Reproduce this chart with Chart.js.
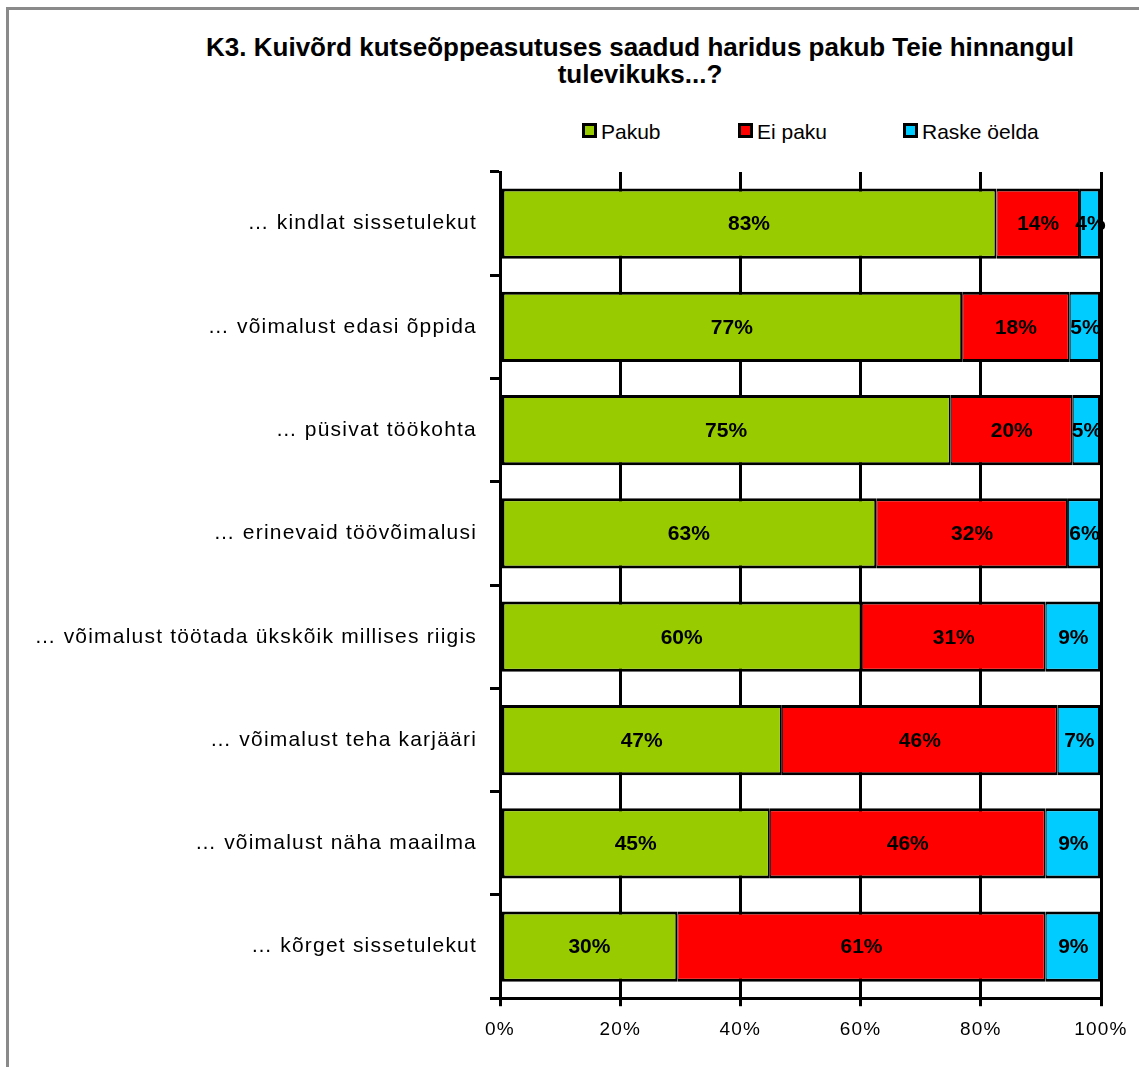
<!DOCTYPE html>
<html lang="et">
<head>
<meta charset="utf-8">
<title>K3</title>
<script src="https://cdn.jsdelivr.net/npm/chart.js@4.4.1/dist/chart.umd.min.js"></script>
<style>
  html, body { margin: 0; padding: 0; background: #fff; overflow: hidden; }
  body { width: 1139px; height: 1067px; position: relative; font-family: "Liberation Sans", Arial, sans-serif; }
  #frame { position: absolute; left: 6px; top: 7px; width: 1200px; height: 1200px; border: 3px solid #8a8a8a; }
  #title { position: absolute; left: 140px; width: 1000px; top: 34px; text-align: center;
           font-weight: bold; font-size: 26px; line-height: 27px; color: #000; }
  .lg { position: absolute; top: 120px; font-size: 21px; color: #000; line-height: 24px; white-space: nowrap; }
  .lg i { display: inline-block; width: 9px; height: 9px; border: 3px solid #000; margin-right: 4px; vertical-align: 1px; }
  #wrap { position: absolute; left: 0; top: 0; width: 1139px; height: 1067px; }
</style>
</head>
<body>
<div id="frame"></div>
<div id="title">K3. Kuivõrd kutseõppeasutuses saadud haridus pakub Teie hinnangul<br>tulevikuks...?</div>
<div id="legend"></div>
<div id="wrap"><canvas id="chart"></canvas></div>
<script>
// ---------- Data ----------
const categories = [
  "… kindlat sissetulekut",
  "… võimalust edasi õppida",
  "… püsivat töökohta",
  "… erinevaid töövõimalusi",
  "… võimalust töötada ükskõik millises riigis",
  "… võimalust teha karjääri",
  "… võimalust näha maailma",
  "… kõrget sissetulekut"
];

const seriesNames = ["Pakub", "Ei paku", "Raske öelda"];
const seriesColors = ["#99CC00", "#FF0000", "#00CCFF"];

const pakub      = [82.6, 76.9, 75.0, 62.6, 60.2, 46.9, 44.9, 29.5];
const eiPaku     = [13.9, 17.9, 20.3, 31.9, 30.6, 45.9, 45.9, 61.3];
const raskeOelda = [3.5, 5.2, 4.7, 5.5, 9.2, 7.2, 9.2, 9.2];

const xTicks = [0, 20, 40, 60, 80, 100];

// ---------- Legend (html, from the series lists) ----------
const legendX = [582, 738, 903];
const legendEl = document.getElementById("legend");
seriesNames.forEach((name, i) => {
  const d = document.createElement("div");
  d.className = "lg";
  d.style.left = legendX[i] + "px";
  d.innerHTML = '<i style="background:' + seriesColors[i] + '"></i>' + name;
  legendEl.appendChild(d);
});

// ---------- Plugins ----------
// the source renders its axis text a little spread out
const textSpacing = {
  id: "textSpacing",
  beforeDraw(chart) { chart.ctx.letterSpacing = "1.2px"; },
  beforeDatasetsDraw(chart) { chart.ctx.letterSpacing = "0px"; }
};

const barLabels = {
  id: "barLabels",
  afterDatasetsDraw(chart) {
    const ctx = chart.ctx;
    ctx.save();
    ctx.font = "bold 21px 'Liberation Sans', Arial, sans-serif";
    ctx.fillStyle = "#000";
    ctx.textAlign = "center";
    ctx.textBaseline = "middle";
    chart.data.datasets.forEach((ds, i) => {
      chart.getDatasetMeta(i).data.forEach((bar, j) => {
        const p = bar.getProps(["x", "y", "base"], true);
        ctx.fillText(Math.round(ds.data[j]) + "%", (p.x + p.base) / 2, p.y + 1);
      });
    });
    ctx.restore();
  }
};

// ---------- Chart ----------
const borders = [
  { top: 3, bottom: 3, left: 3, right: 2 },
  { top: 3, bottom: 3, left: 1, right: 2 },
  { top: 3, bottom: 3, left: 1, right: 3 }
];

new Chart(document.getElementById("chart"), {
  type: "bar",
  data: {
    labels: categories,
    datasets: [pakub, eiPaku, raskeOelda].map((vals, i) => ({
      label: seriesNames[i],
      data: vals,
      backgroundColor: seriesColors[i],
      borderColor: "#000",
      borderWidth: borders[i],
      borderSkipped: false,
      barPercentage: 0.68,
      categoryPercentage: 1
    }))
  },
  options: {
    indexAxis: "y",
    responsive: true,
    maintainAspectRatio: false,
    animation: false,
    layout: { padding: { top: 172, left: 0, right: 38, bottom: 14 } },
    plugins: {
      legend: { display: false },
      title: { display: false },
      tooltip: { enabled: false }
    },
    scales: {
      x: {
        stacked: true,
        min: 0,
        max: 100,
        afterBuildTicks: (s) => { s.ticks = xTicks.map(v => ({ value: v })); },
        ticks: {
          color: "#000",
          padding: 12,
          font: { family: "'Liberation Sans', Arial, sans-serif", size: 19 },
          callback: (v) => v + "%"
        },
        grid: { color: "#000", lineWidth: 3, tickLength: 8, tickColor: "#000" },
        border: { color: "#000", width: 3 }
      },
      y: {
        stacked: true,
        afterFit: (s) => { s.width = 500; },
        ticks: {
          color: "#000",
          padding: 13,
          font: { family: "'Liberation Sans', Arial, sans-serif", size: 21 }
        },
        grid: { color: "transparent", drawOnChartArea: false, tickColor: "#000", tickLength: 10, lineWidth: 3, offset: true },
        border: { color: "#000", width: 3 }
      }
    }
  },
  plugins: [textSpacing, barLabels]
});
</script>
</body>
</html>
